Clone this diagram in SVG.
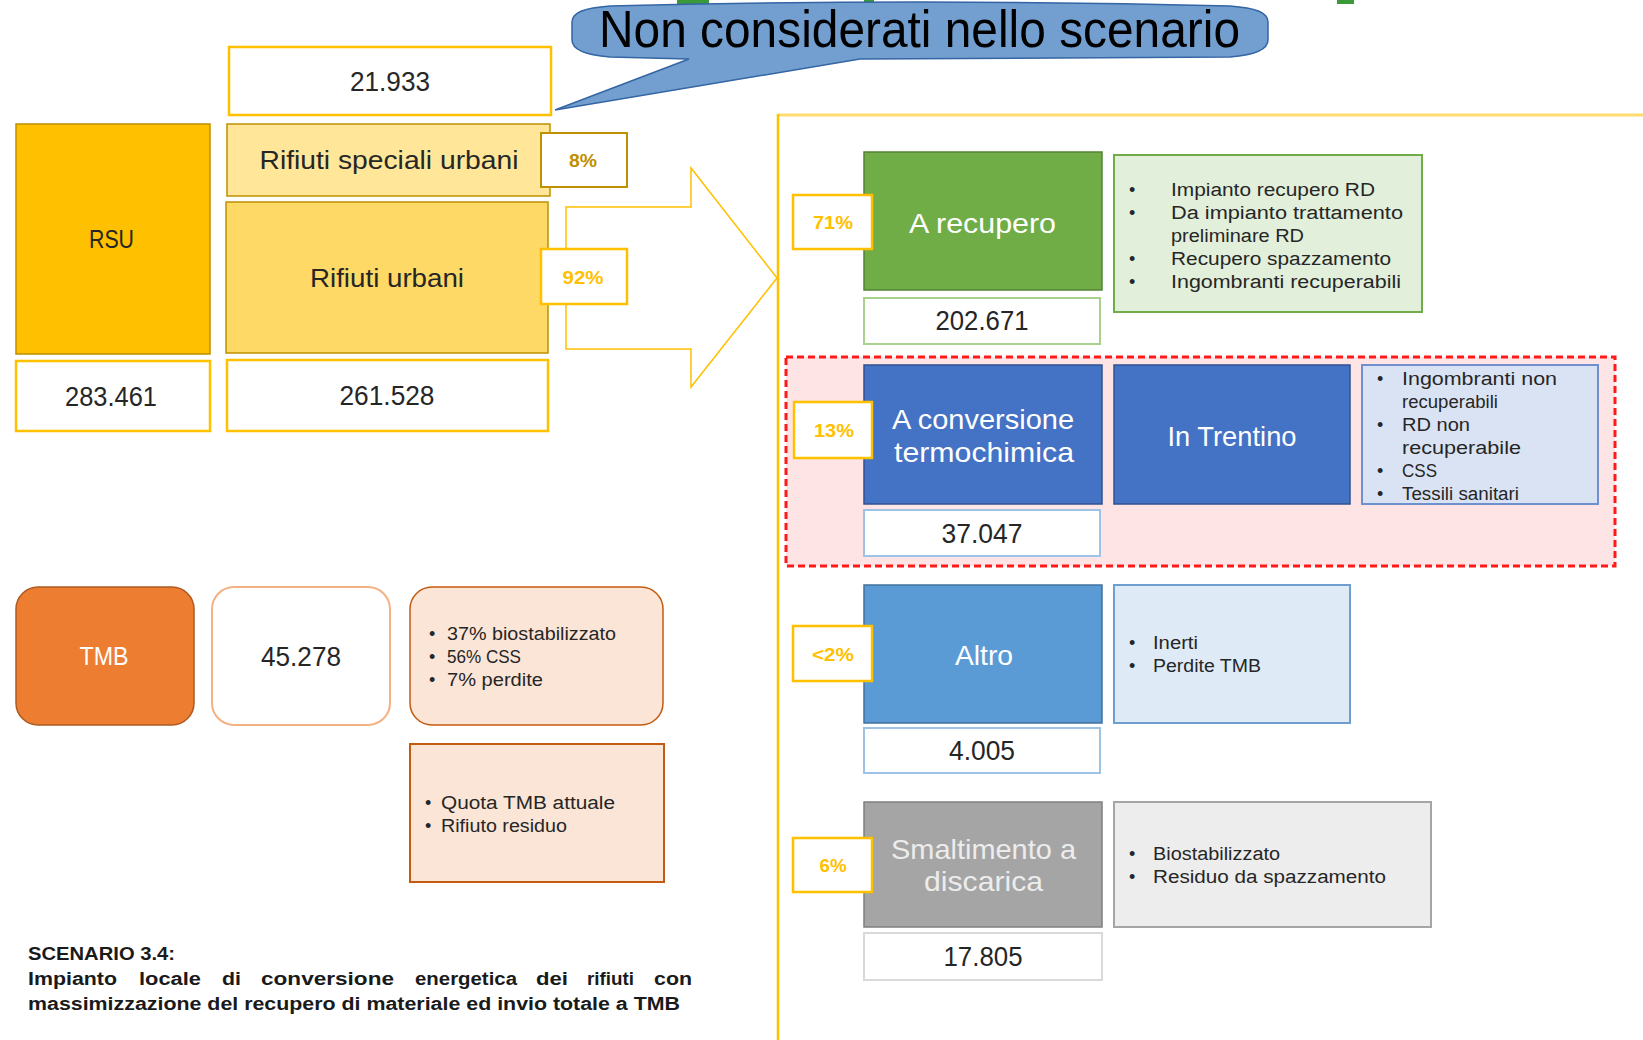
<svg xmlns="http://www.w3.org/2000/svg" width="1643" height="1040" viewBox="0 0 1643 1040">
<style>
text{font-family:"Liberation Sans",Arial,sans-serif;fill:#262626}
.c{text-anchor:middle}
.num{font-size:27px}
.lab{font-size:25px}
.big{font-size:28px;fill:#fff}
.li{font-size:18px}
.pct{font-size:19px;font-weight:bold;fill:#ffc000}
.cap{font-size:18px;font-weight:bold;fill:#1a1a1a}
.nb{fill:#fff;stroke:#ffc000;stroke-width:2.5}
.pb{fill:#fff;stroke:#ffc000;stroke-width:2.5}
</style>
<rect width="1643" height="1040" fill="#fff"/>
<g id="topfragments" fill="#3a9a3a">
<rect x="677" y="0" width="32" height="4"/>
<rect x="864" y="0" width="10" height="4"/>
<rect x="1337" y="0" width="17" height="4"/>
</g>
<g id="container">
<line x1="778" y1="115" x2="1643" y2="115" stroke="#ffdb70" stroke-width="3"/>
<line x1="778" y1="114" x2="778" y2="1040" stroke="#ffc000" stroke-width="2.5"/>
</g>
<g id="connectors">
<polygon points="566,207 691,207 691,168 777,278 691,387 691,349 566,349" fill="#fff" stroke="#ffc000" stroke-width="1.5"/>
</g>
<g id="callout">
<path d="M572,22 C572,12 585,8 610,6 Q920,-2 1230,6 C1255,8 1268,12 1268,22 V40 C1268,50 1255,55 1230,57 L860,59 L555,110 L689,59 L610,57 C585,55 572,50 572,40 Z" fill="#729fcf" stroke="#3465a4" stroke-width="1.5"/>
<text x="599" y="47" font-size="52" textLength="641" lengthAdjust="spacingAndGlyphs" style="fill:#000">Non considerati nello scenario</text>
</g>
<g id="n21933"><rect class="nb" x="229" y="47" width="322" height="68"/><text class="c num" x="390" y="91" textLength="80" lengthAdjust="spacingAndGlyphs">21.933</text></g>
<g id="rsu"><rect x="16" y="124" width="194" height="230" fill="#ffc000" stroke="#bf9000" stroke-width="1.5"/><text class="c lab" x="111.5" y="248" textLength="45" lengthAdjust="spacingAndGlyphs">RSU</text></g>
<g id="n283461"><rect class="nb" x="16" y="361" width="194" height="70"/><text class="c num" x="111" y="406" textLength="92" lengthAdjust="spacingAndGlyphs">283.461</text></g>
<g id="speciali"><rect x="227" y="124" width="323" height="72" fill="#ffe699" stroke="#bf9000" stroke-width="1.5"/><text class="c lab" x="389" y="169" textLength="259" lengthAdjust="spacingAndGlyphs">Rifiuti speciali urbani</text></g>
<g id="p8"><rect x="541" y="133" width="86" height="54" fill="#fff" stroke="#bf9000" stroke-width="2"/><text class="c pct" x="583" y="167" textLength="28" lengthAdjust="spacingAndGlyphs" style="fill:#bf9000">8%</text></g>
<g id="urbani"><rect x="226" y="202" width="322" height="151" fill="#ffd966" stroke="#bf9000" stroke-width="1.5"/><text class="c lab" x="387" y="287" textLength="154" lengthAdjust="spacingAndGlyphs">Rifiuti urbani</text></g>
<g id="p92"><rect class="pb" x="541" y="249" width="86" height="55"/><text class="c pct" x="583" y="284" textLength="41" lengthAdjust="spacingAndGlyphs">92%</text></g>
<g id="n261528"><rect class="nb" x="227" y="360" width="321" height="71"/><text class="c num" x="387" y="405" textLength="95" lengthAdjust="spacingAndGlyphs">261.528</text></g>

<g id="recupero"><rect x="864" y="152" width="238" height="138" fill="#70ad47" stroke="#548235" stroke-width="1.5"/><text class="c big" x="982.5" y="233" textLength="147" lengthAdjust="spacingAndGlyphs">A recupero</text></g>
<g id="p71"><rect class="pb" x="793" y="195" width="79" height="54"/><text class="c pct" x="833" y="229" textLength="40" lengthAdjust="spacingAndGlyphs">71%</text></g>
<g id="n202671"><rect x="864" y="298" width="236" height="46" fill="#fff" stroke="#a9d18e" stroke-width="2"/><text class="c num" x="982" y="330" textLength="93" lengthAdjust="spacingAndGlyphs">202.671</text></g>
<g id="recuperolist"><rect x="1114" y="155" width="308" height="157" fill="#e2efda" stroke="#70ad47" stroke-width="2"/>
<text class="li" x="1129" y="195.5">•</text><text class="li" x="1171" y="195.5" textLength="204" lengthAdjust="spacingAndGlyphs">Impianto recupero RD</text>
<text class="li" x="1129" y="218.5">•</text><text class="li" x="1171" y="218.5" textLength="232" lengthAdjust="spacingAndGlyphs">Da impianto trattamento</text>
<text class="li" x="1171" y="241.5" textLength="133" lengthAdjust="spacingAndGlyphs">preliminare RD</text>
<text class="li" x="1129" y="264.5">•</text><text class="li" x="1171" y="264.5" textLength="220" lengthAdjust="spacingAndGlyphs">Recupero spazzamento</text>
<text class="li" x="1129" y="287.5">•</text><text class="li" x="1171" y="287.5" textLength="230" lengthAdjust="spacingAndGlyphs">Ingombranti recuperabili</text>
</g>

<g id="redzone"><rect x="786" y="357" width="829" height="209" fill="#ffe4e6" stroke="#ff1a1a" stroke-width="3" stroke-dasharray="7 4"/></g>
<g id="conversione"><rect x="864" y="365" width="238" height="139" fill="#4472c4" stroke="#2f528f" stroke-width="1.5"/><text class="c big" x="983" y="429" textLength="182" lengthAdjust="spacingAndGlyphs">A conversione</text><text class="c big" x="984" y="462" textLength="180" lengthAdjust="spacingAndGlyphs">termochimica</text></g>
<g id="p13"><rect class="pb" x="794" y="402" width="78" height="56"/><text class="c pct" x="834" y="437" textLength="40" lengthAdjust="spacingAndGlyphs">13%</text></g>
<g id="n37047"><rect x="864" y="510" width="236" height="46" fill="#fff" stroke="#9dc3e6" stroke-width="2"/><text class="c num" x="982" y="543" textLength="81" lengthAdjust="spacingAndGlyphs">37.047</text></g>
<g id="trentino"><rect x="1114" y="365" width="236" height="139" fill="#4472c4" stroke="#2f528f" stroke-width="1.5"/><text class="c big" x="1232" y="446" textLength="129" lengthAdjust="spacingAndGlyphs">In Trentino</text></g>
<g id="trentinolist"><rect x="1362" y="365" width="236" height="139" fill="#dae3f3" stroke="#6f8fcf" stroke-width="2"/>
<text class="li" x="1377" y="384.5">•</text><text class="li" x="1402" y="384.5" textLength="155" lengthAdjust="spacingAndGlyphs">Ingombranti non</text>
<text class="li" x="1402" y="407.5" textLength="96" lengthAdjust="spacingAndGlyphs">recuperabili</text>
<text class="li" x="1377" y="430.5">•</text><text class="li" x="1402" y="430.5" textLength="68" lengthAdjust="spacingAndGlyphs">RD non</text>
<text class="li" x="1402" y="453.5" textLength="119" lengthAdjust="spacingAndGlyphs">recuperabile</text>
<text class="li" x="1377" y="476.5">•</text><text class="li" x="1402" y="476.5" textLength="35" lengthAdjust="spacingAndGlyphs">CSS</text>
<text class="li" x="1377" y="499.5">•</text><text class="li" x="1402" y="499.5" textLength="117" lengthAdjust="spacingAndGlyphs">Tessili sanitari</text>
</g>

<g id="altro"><rect x="864" y="585" width="238" height="138" fill="#5b9bd5" stroke="#41719c" stroke-width="1.5"/><text class="c big" x="984" y="665" textLength="58" lengthAdjust="spacingAndGlyphs">Altro</text></g>
<g id="p2"><rect class="pb" x="793" y="626" width="79" height="55"/><text class="c pct" x="833" y="661" textLength="42" lengthAdjust="spacingAndGlyphs">&lt;2%</text></g>
<g id="n4005"><rect x="864" y="728" width="236" height="45" fill="#fff" stroke="#9dc3e6" stroke-width="2"/><text class="c num" x="982" y="760" textLength="66" lengthAdjust="spacingAndGlyphs">4.005</text></g>
<g id="altrolist"><rect x="1114" y="585" width="236" height="138" fill="#deebf7" stroke="#6f9fd0" stroke-width="2"/>
<text class="li" x="1129" y="648.5">•</text><text class="li" x="1153" y="648.5" textLength="45" lengthAdjust="spacingAndGlyphs">Inerti</text>
<text class="li" x="1129" y="671.5">•</text><text class="li" x="1153" y="671.5" textLength="108" lengthAdjust="spacingAndGlyphs">Perdite TMB</text>
</g>

<g id="discarica"><rect x="864" y="802" width="238" height="125" fill="#a5a5a5" stroke="#7f7f7f" stroke-width="1.5"/><text class="c big" x="983.5" y="859" textLength="185" lengthAdjust="spacingAndGlyphs" style="fill:#ececec">Smaltimento a</text><text class="c big" x="983.5" y="891" textLength="119" lengthAdjust="spacingAndGlyphs" style="fill:#ececec">discarica</text></g>
<g id="p6"><rect class="pb" x="793" y="838" width="79" height="54"/><text class="c pct" x="833" y="872" textLength="27" lengthAdjust="spacingAndGlyphs">6%</text></g>
<g id="n17805"><rect x="864" y="933" width="238" height="47" fill="#fff" stroke="#d9d9d9" stroke-width="2"/><text class="c num" x="983" y="966" textLength="79" lengthAdjust="spacingAndGlyphs">17.805</text></g>
<g id="discaricalist"><rect x="1114" y="802" width="317" height="125" fill="#ededed" stroke="#a5a5a5" stroke-width="2"/>
<text class="li" x="1129" y="859.5">•</text><text class="li" x="1153" y="859.5" textLength="127" lengthAdjust="spacingAndGlyphs">Biostabilizzato</text>
<text class="li" x="1129" y="882.5">•</text><text class="li" x="1153" y="882.5" textLength="233" lengthAdjust="spacingAndGlyphs">Residuo da spazzamento</text>
</g>

<g id="tmb"><rect x="16" y="587" width="178" height="138" rx="22" fill="#ed7d31" stroke="#ae5a21" stroke-width="1.5"/><text class="c lab" x="104" y="665" textLength="49" lengthAdjust="spacingAndGlyphs" style="fill:#fff">TMB</text></g>
<g id="n45278"><rect x="212" y="587" width="178" height="138" rx="22" fill="#fff" stroke="#f4b183" stroke-width="2"/><text class="c num" x="301" y="666" textLength="80" lengthAdjust="spacingAndGlyphs">45.278</text></g>
<g id="tmblist"><rect x="410" y="587" width="253" height="138" rx="22" fill="#fbe5d6" stroke="#c55a11" stroke-width="1.5"/>
<text class="li" x="429" y="640">•</text><text class="li" x="447" y="640" textLength="169" lengthAdjust="spacingAndGlyphs">37% biostabilizzato</text>
<text class="li" x="429" y="663">•</text><text class="li" x="447" y="663" textLength="74" lengthAdjust="spacingAndGlyphs">56% CSS</text>
<text class="li" x="429" y="686">•</text><text class="li" x="447" y="686" textLength="96" lengthAdjust="spacingAndGlyphs">7% perdite</text>
</g>
<g id="tmbquota"><rect x="410" y="744" width="254" height="138" fill="#fbe5d6" stroke="#c55a11" stroke-width="2"/>
<text class="li" x="425" y="809">•</text><text class="li" x="441" y="809" textLength="174" lengthAdjust="spacingAndGlyphs">Quota TMB attuale</text>
<text class="li" x="425" y="832">•</text><text class="li" x="441" y="832" textLength="126" lengthAdjust="spacingAndGlyphs">Rifiuto residuo</text>
</g>

<g id="caption">
<text class="cap" x="28" y="960" textLength="147" lengthAdjust="spacingAndGlyphs">SCENARIO 3.4:</text>
<text class="cap" x="28" y="985" textLength="89" lengthAdjust="spacingAndGlyphs">Impianto</text>
<text class="cap" x="139" y="985" textLength="62" lengthAdjust="spacingAndGlyphs">locale</text>
<text class="cap" x="222" y="985" textLength="19" lengthAdjust="spacingAndGlyphs">di</text>
<text class="cap" x="261" y="985" textLength="133" lengthAdjust="spacingAndGlyphs">conversione</text>
<text class="cap" x="415" y="985" textLength="102" lengthAdjust="spacingAndGlyphs">energetica</text>
<text class="cap" x="536" y="985" textLength="32" lengthAdjust="spacingAndGlyphs">dei</text>
<text class="cap" x="587" y="985" textLength="47" lengthAdjust="spacingAndGlyphs">rifiuti</text>
<text class="cap" x="654" y="985" textLength="38" lengthAdjust="spacingAndGlyphs">con</text>
<text class="cap" x="28" y="1010" textLength="652" lengthAdjust="spacingAndGlyphs">massimizzazione del recupero di materiale ed invio totale a TMB</text>
</g>
</svg>
